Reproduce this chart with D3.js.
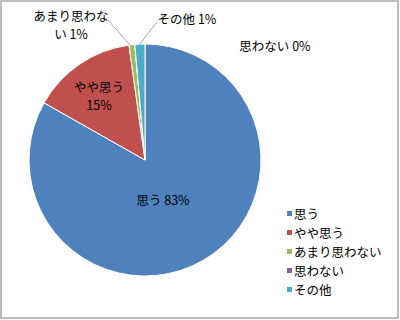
<!DOCTYPE html>
<html>
<head>
<meta charset="utf-8">
<script src="https://cdn.jsdelivr.net/npm/d3@7"></script>
<style>
	body { margin: 0; background: #fff; }
	text { font-family: "Noto Sans CJK JP", sans-serif; font-size: 12.5px; fill: #000; }
</style>
</head>
<body>
<script>
const categories = ['思う', 'やや思う', 'あまり思わない', '思わない', 'その他'];
const values = [83.2, 14.6, 0.8, 0, 1.4];
const percentLabels = ['83%', '15%', '1%', '0%', '1%'];
const colors = ['#4F81BD', '#C0504D', '#9BBB59', '#8064A2', '#4BACC6'];

const w = 400;
const h = 320;
const cx = 145;
const cy = 160;
const r = 116;

const svg = d3.select('body').append('svg')
	.attr('width', w)
	.attr('height', h);

svg.append('rect')
	.attr('x', 1)
	.attr('y', 1)
	.attr('width', w - 3)
	.attr('height', h - 3)
	.attr('fill', '#fff')
	.attr('stroke', '#a6a6a6')
	.attr('stroke-width', 1.5);

const data = categories.map((c, i) => ({ name: c, value: values[i], pct: percentLabels[i], color: colors[i] }));

const pie = d3.pie().sort(null).value(d => d.value);
const arcs = pie(data);
const arc = d3.arc().innerRadius(0).outerRadius(r);

const g = svg.append('g').attr('transform', `translate(${cx},${cy})`);

g.selectAll('path')
	.data(arcs)
	.enter()
	.append('path')
	.attr('d', arc)
	.attr('fill', d => d.data.color)
	.attr('stroke', '#fff')
	.attr('stroke-width', 1);

// label layout, relative to the pie centre
const labelLayout = [
	{ lines: ['思う 83%'], x: 18, y: 45 },
	{ lines: ['やや思う', '15%'], x: -46, y: -68 },
	{ lines: ['あまり思わな', 'い 1%'], x: -74, y: -139, leader: [[-37, -140], [-15, -115]] },
	{ lines: ['思わない 0%'], x: 130, y: -109 },
	{ lines: ['その他 1%'], x: 42, y: -136, leader: [[12, -138], [-6, -115]] }
];

arcs.forEach((a, i) => {
	const lay = labelLayout[i];
	if (lay.leader) {
		g.append('polyline')
			.attr('points', lay.leader.map(p => p.join(',')).join(' '))
			.attr('fill', 'none')
			.attr('stroke', '#8c8c8c')
			.attr('stroke-width', 0.8);
	}
	const t = g.append('text')
		.attr('text-anchor', 'middle')
		.attr('x', lay.x)
		.attr('y', lay.y);
	lay.lines.forEach((line, j) => {
		t.append('tspan')
			.attr('x', lay.x)
			.attr('dy', j === 0 ? 0 : 18.4)
			.text(line);
	});
});

const legend = svg.append('g')
	.attr('transform', 'translate(287,214)');

const legendScale = d3.scaleBand()
	.domain(categories)
	.range([0, 95]);

const items = legend.selectAll('g')
	.data(data)
	.enter()
	.append('g')
	.attr('transform', d => `translate(0,${legendScale(d.name)})`);

items.append('rect')
	.attr('x', 0)
	.attr('y', -3)
	.attr('width', 5)
	.attr('height', 5)
	.attr('fill', d => d.color);

items.append('text')
	.attr('x', 7)
	.attr('y', 4.5)
	.text(d => d.name);
</script>
</body>
</html>
